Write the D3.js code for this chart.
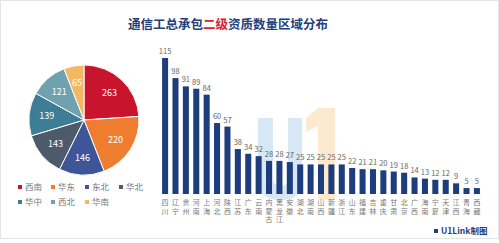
<!DOCTYPE html>
<html>
<head>
<meta charset="utf-8">
<script src="https://cdn.jsdelivr.net/npm/d3@7"></script>
<style>
  html, body { margin: 0; padding: 0; background: #fff; }
  text { font-family: "Noto Sans CJK SC", "Noto Sans", sans-serif; }
</style>
</head>
<body>
<div class="canvas"></div>
<script>
// data
const regions = ['西南', '华东', '东北', '华北', '华中', '西北', '华南'];
const regionCounts = [263, 220, 146, 143, 139, 121, 65];
const regionColors = ['#c8142c', '#ee7d30', '#3e5597', '#4d5a6c', '#3d7d95', '#6fa2ae', '#f2b964'];

const provinces = ['四川', '辽宁', '贵州', '河南', '上海', '河北', '陕西', '江苏', '广东', '云南',
  '内蒙古', '黑龙江', '安徽', '湖北', '湖南', '山西', '新疆', '浙江', '山东', '福建',
  '吉林', '重庆', '甘肃', '北京', '广西', '海南', '宁夏', '天津', '江西', '青海', '西藏'];
const provinceCounts = [115, 98, 91, 89, 84, 60, 57, 38, 34, 32,
  28, 28, 27, 25, 25, 25, 25, 25, 22, 21,
  21, 20, 19, 18, 14, 13, 12, 12, 9, 5, 5];

const W = 499;
const H = 243;

const svg = d3.select('.canvas')
  .append('svg')
  .attr('width', W)
  .attr('height', H);

// frame
svg.append('rect')
  .attr('x', 0.5).attr('y', 0.5)
  .attr('width', W - 1).attr('height', H - 5)
  .attr('fill', '#fff')
  .attr('stroke', '#e4e4e4');

// title
const title = svg.append('text')
  .attr('x', 228)
  .attr('y', 29)
  .attr('text-anchor', 'middle')
  .attr('font-size', 12.5)
  .attr('font-weight', 'bold')
  .attr('fill', '#23407a');
title.append('tspan').text('通信工总承包');
title.append('tspan').attr('fill', '#e0202a').text('二级');
title.append('tspan').text('资质数量区域分布');

/*--------------------------------
  WATERMARK (U1 logo, drawn as shapes)
--------------------------------*/
const wm = svg.append('g').attr('opacity', 0.9);
// U in light blue
wm.append('path')
  .attr('d', 'M258,118 H273 V178 Q273,186 281,186 Q288,186 288,178 V118 H302 V180 Q302,200 281,200 Q258,200 258,180 Z')
  .attr('fill', '#d3e5f4');
// 1 in light orange
wm.append('path')
  .attr('d', 'M318,108 H335 V200 H318 V126 L306,132 V118 Z')
  .attr('fill', '#fde7c9');

/*--------------------------------
  PIE
--------------------------------*/
const cx = 84;
const cy = 120;
const r = 55;

const pie = d3.pie().sort(null)(regionCounts);
const arc = d3.arc().innerRadius(0).outerRadius(r);
const labelArc = d3.arc().innerRadius(r * 0.68).outerRadius(r * 0.68);

const pieG = svg.append('g').attr('transform', `translate(${cx}, ${cy})`);

pieG.selectAll('path')
  .data(pie)
  .enter()
  .append('path')
  .attr('d', arc)
  .attr('fill', (d, i) => regionColors[i])
  .attr('stroke', '#fff')
  .attr('stroke-width', 1);

pieG.selectAll('text')
  .data(pie)
  .enter()
  .append('text')
  .attr('transform', d => `translate(${labelArc.centroid(d)})`)
  .attr('text-anchor', 'middle')
  .attr('dy', '0.35em')
  .attr('font-size', 9)
  .attr('fill', '#fff')
  .text(d => d.data);

// legend
const legendPos = [[20, 187], [53, 187], [87, 187], [121, 187], [20, 202], [53, 202], [87, 202]];
const legend = svg.append('g');
regions.forEach((name, i) => {
  const [lx, ly] = legendPos[i];
  legend.append('rect')
    .attr('x', lx - 2).attr('y', ly - 2)
    .attr('width', 4).attr('height', 4)
    .attr('fill', regionColors[i]);
  legend.append('text')
    .attr('x', lx + 5).attr('y', ly)
    .attr('dy', '0.35em')
    .attr('font-size', 8.5)
    .attr('fill', '#777')
    .text(name);
});

/*--------------------------------
  BARS
--------------------------------*/
const baseY = 194;
const x = d3.scaleBand()
  .domain(provinces)
  .range([160, 482])
  .paddingInner(0.42)
  .paddingOuter(0.2);

const y = d3.scaleLinear()
  .domain([0, 115])
  .range([baseY, 58]);

const barData = provinces.map((p, i) => ({ name: p, value: provinceCounts[i] }));

svg.append('g').selectAll('rect')
  .data(barData)
  .enter()
  .append('rect')
  .attr('x', d => x(d.name))
  .attr('y', d => y(d.value))
  .attr('width', x.bandwidth())
  .attr('height', d => baseY - y(d.value))
  .attr('fill', '#1d3d7c');

svg.append('g').selectAll('text')
  .data(barData)
  .enter()
  .append('text')
  .attr('x', d => x(d.name) + x.bandwidth() / 2)
  .attr('y', d => y(d.value) - 4)
  .attr('text-anchor', 'middle')
  .attr('font-size', 7.5)
  .attr('fill', '#666')
  .text(d => d.value);

// vertical category labels, one character per line
const catG = svg.append('g');
barData.forEach((d) => {
  d.name.split('').forEach((ch, j) => {
    catG.append('text')
      .attr('x', x(d.name) + x.bandwidth() / 2)
      .attr('y', 205 + j * 8.6)
      .attr('text-anchor', 'middle')
      .attr('font-size', 7)
      .attr('fill', '#777')
      .text(ch);
  });
});

// source
svg.append('rect')
  .attr('x', 434).attr('y', 229)
  .attr('width', 4).attr('height', 4)
  .attr('fill', '#23407a');
svg.append('text')
  .attr('x', 441)
  .attr('y', 231)
  .attr('dy', '0.35em')
  .attr('font-size', 8.5)
  .attr('font-weight', 'bold')
  .attr('fill', '#23407a')
  .text('U1Link制图');
</script>
</body>
</html>
